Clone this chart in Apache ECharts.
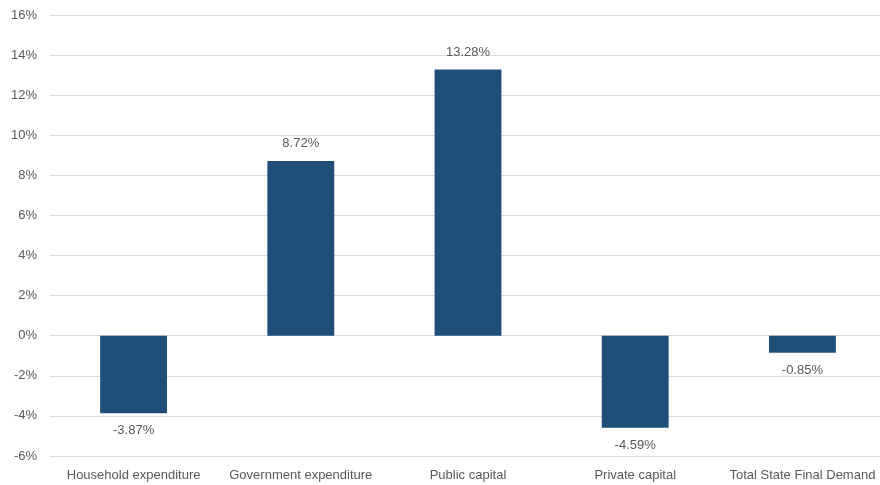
<!DOCTYPE html>
<html>
<head>
<meta charset="utf-8">
<script src="https://cdn.jsdelivr.net/npm/echarts@6/dist/echarts.min.js"></script>
<style>
  html, body { margin: 0; padding: 0; background: #fff; }
  #chart { width: 880px; height: 485px; }
</style>
</head>
<body>
<div id="chart"></div>
<script>
// categories and growth values (%)
var categories = ['Household expenditure', 'Government expenditure', 'Public capital', 'Private capital', 'Total State Final Demand'];
var growth = [-3.87, 8.72, 13.28, -4.59, -0.85];

var textColor = '#595959';
var font = 'Liberation Sans';

var chart = echarts.init(document.getElementById('chart'));

var option = {
    animation: false,
    // plot runs past the right edge, like the original
    grid: { left: 50, width: 836, top: 15, bottom: 29, outerBoundsMode: 'none' },
    xAxis: {
        type: 'category',
        data: categories,
        axisLine: { show: false },
        axisTick: { show: false },
        axisLabel: { color: textColor, fontFamily: font, fontSize: 13, margin: 13, interval: 0 }
    },
    yAxis: {
        type: 'value',
        min: -6,
        max: 16,
        interval: 2,
        axisLine: { show: false },
        axisTick: { show: false },
        splitLine: { lineStyle: { color: '#d9d9d9', width: 1 } },
        axisLabel: {
            color: textColor, fontFamily: font, fontSize: 13, margin: 13,
            formatter: function (v) { return v + '%'; }
        }
    },
    series: [{
        type: 'bar',
        data: growth,
        barWidth: '40%',
        itemStyle: { color: '#1f4e79' },
        label: {
            show: true,
            position: 'outside',
            distance: 11,
            color: textColor,
            fontFamily: font,
            fontSize: 13,
            formatter: function (p) { return p.value.toFixed(2) + '%'; }
        }
    }]
};

chart.setOption(option);
</script>
</body>
</html>
